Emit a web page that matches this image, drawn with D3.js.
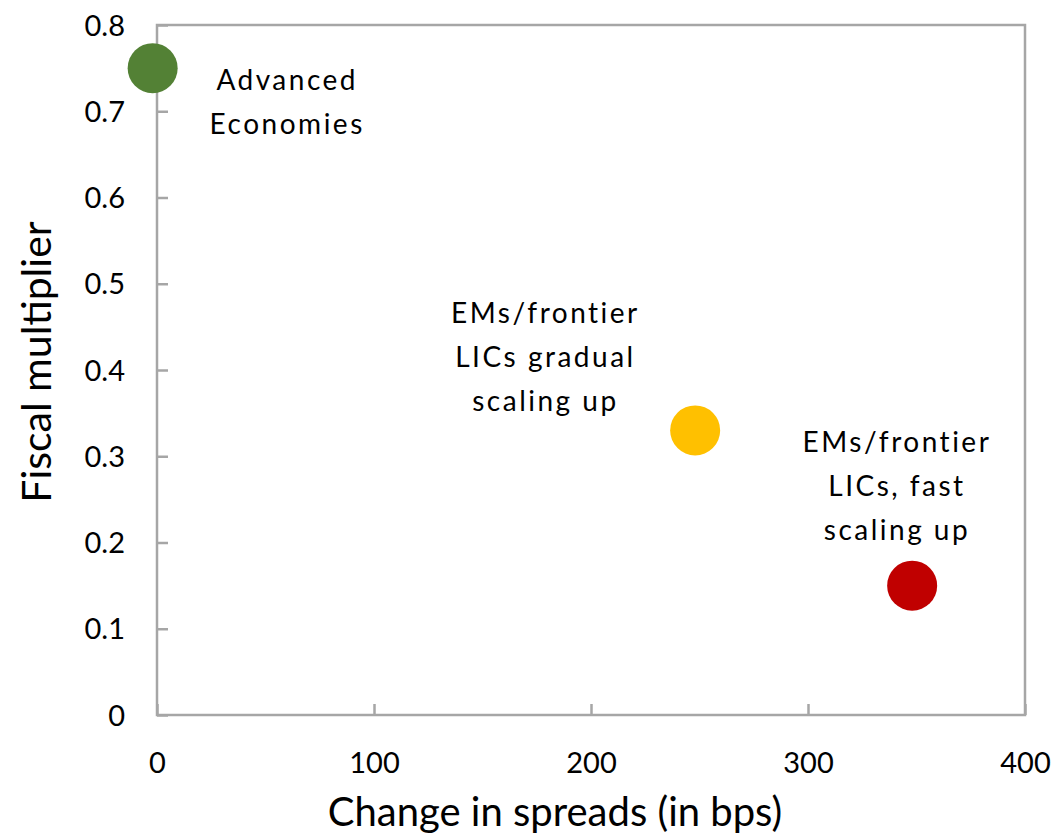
<!DOCTYPE html>
<html>
<head>
<meta charset="utf-8">
<script src="https://cdn.jsdelivr.net/npm/d3@7"></script>
<style>
  html, body { margin: 0; padding: 0; background: #fff; }
  svg { display: block; font-family: Lato, "Noto Sans", sans-serif; }
</style>
</head>
<body>
<svg id="chart" width="1058" height="834"></svg>
<script>
// Groups, their spread change (bps) and fiscal multiplier
const groups = ["Advanced Economies", "EMs/frontier LICs gradual scaling up", "EMs/frontier LICs, fast scaling up"];
const spreadChange = [-2, 248, 348];
const multiplier = [0.75, 0.33, 0.15];
const colors = ["#538135", "#FFC000", "#C00000"];
// Label lines for each group
const labelLines = [
  ["Advanced", "Economies"],
  ["EMs/frontier", "LICs gradual", "scaling up"],
  ["EMs/frontier", "LICs, fast", "scaling up"]
];
// Label anchor points in data units (centre x, first baseline y)
const labelX = [60, 179, 341];
const labelY = [0.725, 0.455, 0.305];

const xTicks = [0, 100, 200, 300, 400];
const yTicks = [0, 0.1, 0.2, 0.3, 0.4, 0.5, 0.6, 0.7, 0.8];

const svg = d3.select("#chart");
const margin = { left: 157, top: 25, right: 33, bottom: 119 };
const W = 1058, H = 834;
const x = d3.scaleLinear().domain([0, 400]).range([margin.left, W - margin.right]);
const y = d3.scaleLinear().domain([0, 0.8]).range([H - margin.bottom, margin.top]);

const axisColor = "#A6A6A6";

// Plot frame
svg.append("rect")
  .attr("x", x(0)).attr("y", y(0.8))
  .attr("width", x(400) - x(0)).attr("height", y(0) - y(0.8))
  .attr("fill", "none").attr("stroke", axisColor).attr("stroke-width", 2.5);

// X axis: ticks point into the plot
const xAxis = svg.append("g")
  .attr("transform", `translate(0,${y(0)})`)
  .call(d3.axisBottom(x).tickValues(xTicks).tickSize(-11).tickPadding(0).tickFormat(d3.format("d")));
xAxis.select(".domain").remove();
xAxis.selectAll(".tick line").attr("stroke", axisColor).attr("stroke-width", 2.5);
xAxis.selectAll(".tick text")
  .attr("y", 58).attr("dy", 0)
  .attr("fill", "#000").attr("font-size", 29).attr("font-family", "Lato, sans-serif");

// Y axis
const yAxis = svg.append("g")
  .attr("transform", `translate(${x(0)},0)`)
  .call(d3.axisLeft(y).tickValues(yTicks).tickSize(-11).tickPadding(0)
    .tickFormat(d => d === 0 ? "0" : d3.format(".1f")(d)));
yAxis.select(".domain").remove();
yAxis.selectAll(".tick line").attr("stroke", axisColor).attr("stroke-width", 2.5);
yAxis.selectAll(".tick text")
  .attr("x", -32).attr("dy", "0.35em")
  .attr("fill", "#000").attr("font-size", 29).attr("font-family", "Lato, sans-serif");

// Axis titles
svg.append("text")
  .attr("x", (x(0) + x(400)) / 2 - 36).attr("y", 826)
  .attr("text-anchor", "middle").attr("font-size", 40)
  .text("Change in spreads (in bps)");

svg.append("text")
  .attr("transform", `translate(51,${362}) rotate(-90)`)
  .attr("text-anchor", "middle").attr("font-size", 41)
  .text("Fiscal multiplier");

// Points
svg.append("g").selectAll("circle")
  .data(groups)
  .join("circle")
  .attr("cx", (d, i) => x(spreadChange[i]))
  .attr("cy", (d, i) => y(multiplier[i]))
  .attr("r", 25)
  .attr("fill", (d, i) => colors[i]);

// Point labels
const lbl = svg.append("g").selectAll("text")
  .data(groups)
  .join("text")
  .attr("text-anchor", "middle")
  .attr("font-size", 28)
  .attr("letter-spacing", 2.5)
  .attr("x", (d, i) => x(labelX[i]))
  .attr("y", (d, i) => y(labelY[i]));
lbl.each(function(d, i) {
  d3.select(this).selectAll("tspan")
    .data(labelLines[i])
    .join("tspan")
    .attr("x", x(labelX[i]))
    .attr("dy", (t, j) => j === 0 ? 0 : 44)
    .text(t => t);
});
</script>
</body>
</html>
